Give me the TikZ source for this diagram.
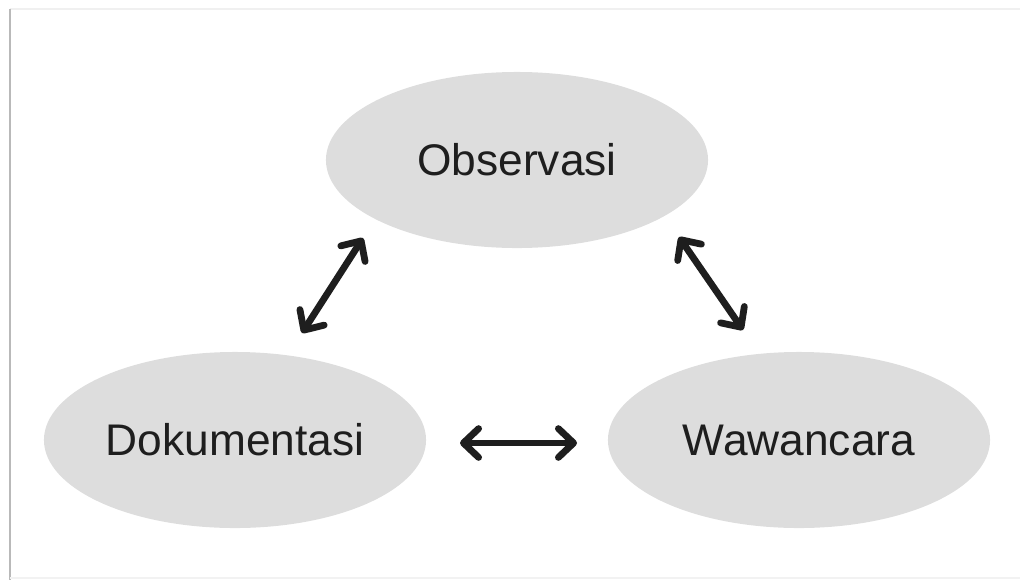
\documentclass[tikz,border=0pt]{standalone}
\usepackage{fontspec}
\setmainfont{Liberation Sans}
\usetikzlibrary{arrows.meta,shapes.geometric}
\definecolor{ovalgray}{RGB}{221,221,221}
\definecolor{txtgray}{RGB}{30,30,30}
\tikzset{
  oval/.style={ellipse, fill=ovalgray, minimum width=9.55cm, minimum height=4.4cm, inner sep=0pt,
    text=txtgray, font=\fontsize{31.5}{36}\selectfont},
  arr/.style={line width=0.17cm, color=txtgray, line cap=round,
    {Straight Barb[length=0.38cm, width=0.72cm, line cap=round, line join=round]}-{Straight Barb[length=0.38cm, width=0.72cm, line cap=round, line join=round]}}
}
\begin{document}
\begin{tikzpicture}[x=0.025cm, y=-0.025cm]
    \useasboundingbox (0,0) rectangle (1020,580);
    \draw[gray!12, line width=0.05cm] (10,9) -- (1020,9);
    \draw[gray!55, line width=0.06cm] (10,9) -- (10,580);
    \draw[gray!10, line width=0.04cm] (10,578) -- (1020,578);

\node[oval] (obs) at (517,160) {Observasi};
\node[oval] (dok) at (235,440) {Dokumentasi};
\node[oval] (waw) at (799,440) {Wawancara};

%  arrow ends between the ovals
\coordinate (obsL) at (363,238);
\coordinate (dokT) at (302,333);
\coordinate (obsR) at (679,237);
\coordinate (wawT) at (743,330);
\coordinate (dokR) at (460,443);
\coordinate (wawL) at (577,443);

\draw[arr] (dokT) -- (obsL);
\draw[arr] (obsR) -- (wawT);
\draw[arr] (dokR) -- (wawL);

\end{tikzpicture}
\end{document}
